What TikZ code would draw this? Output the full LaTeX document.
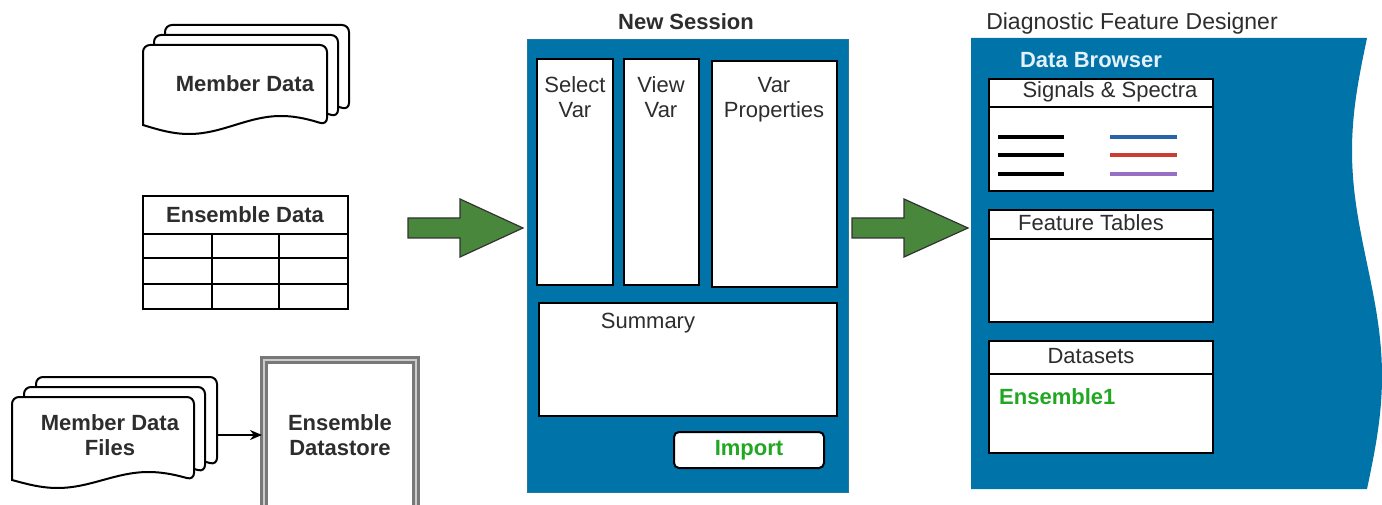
\documentclass[tikz,border=0pt]{standalone}
\usepackage{fontspec}
\setmainfont{Liberation Sans}
\usetikzlibrary{arrows.meta}
\definecolor{panelblue}{RGB}{0,115,168}
\definecolor{arrowgreen}{RGB}{72,135,60}
\definecolor{btngreen}{RGB}{34,167,34}
\definecolor{txt}{RGB}{45,45,45}
\definecolor{sigblue}{RGB}{40,100,170}
\definecolor{sigred}{RGB}{205,60,50}
\definecolor{sigpurple}{RGB}{150,110,195}
\definecolor{browsertxt}{RGB}{228,240,250}
\definecolor{dsgray}{RGB}{120,120,120}
\tikzset{
  lbl/.style={font=\fontsize{22}{25}\selectfont, text=txt, inner sep=0pt, align=center},
  blbl/.style={lbl, font=\fontsize{22}{25}\selectfont\bfseries},
  docstyle/.style={draw=black, fill=white, line width=2pt},
  wbox/.style={draw=black, fill=white, line width=2pt, inner sep=0pt},
  gline/.style={draw=black, line width=2pt},
  bigarrow/.style={draw=black!80, fill=arrowgreen, line width=1.2pt, line join=miter},
  sigline/.style={line width=3.6pt},
}
\newcommand{\wavedoc}[5]{%
  \pgfmathsetmacro{\wq}{(#3-#1)/4}%
  \pgfmathsetmacro{\xa}{#3-\wq}\pgfmathsetmacro{\xb}{#3-2*\wq}\pgfmathsetmacro{\xc}{#3-3*\wq}%
  \pgfmathsetmacro{\yu}{#4-#5}\pgfmathsetmacro{\yd}{#4+#5}%
  \draw[docstyle] (#1,#4) [rounded corners=7pt] -- (#1,#2) -- (#3,#2) -- (#3,#4) [sharp corners]
     sin (\xa,\yu) cos (\xb,#4) sin (\xc,\yd) cos (#1,#4) -- cycle;}
\newcommand{\pxbox}[6]{% name, L, T, R, B, style
  \node[#6, minimum width={(#4-#2)*1pt}, minimum height={(#5-#3)*1pt}] (#1) at ({(#2+#4)/2},{(#3+#5)/2}) {};}
\begin{document}
\begin{tikzpicture}[x=1pt,y=-1pt]
\useasboundingbox (0,0) rectangle (1382,505);

% ---------- Member Data stack ----------
\wavedoc{165}{25}{349}{110}{9}
\wavedoc{154}{35}{338}{117}{9}
\wavedoc{143}{45}{327}{125}{9}
\node[blbl] (md) at (245,84) {Member Data};

% ---------- Ensemble Data table ----------
\pxbox{edtab}{143}{196}{348}{309}{wbox}
\draw[gline] (edtab.west |- 0,234) -- (edtab.east |- 0,234);
\draw[gline] (edtab.west |- 0,258) -- (edtab.east |- 0,258);
\draw[gline] (edtab.west |- 0,284) -- (edtab.east |- 0,284);
\draw[gline] (212,234) -- (212,309);
\draw[gline] (279,234) -- (279,309);
\node[blbl] (edt) at (245,215) {Ensemble Data};

% ---------- Member Data Files stack ----------
\wavedoc{36}{377}{217}{465}{8}
\wavedoc{24}{387}{205}{472}{8}
\wavedoc{12}{397}{194}{480}{8}
\node[blbl] (mdf) at (110,435) {Member Data\\Files};
\coordinate (mdfR) at (217,435);

% ---------- Ensemble Datastore ----------
\draw[draw=dsgray, double=gray!40, double distance=1.5pt, line width=2.8pt]
  (264,520) -- (264,360) -- (416,360) -- (416,520);
\node[blbl] (eds) at (340,435) {Ensemble\\Datastore};
\coordinate (edsL) at (262,435);
\draw[-{Stealth[length=12pt,width=10pt]}, line width=2pt] (mdfR) -- (edsL);

% ---------- green arrows ----------
\coordinate (ga1) at (408,228);
\coordinate (ga2) at (852,228);
\draw[bigarrow] (ga1) ++(0,-10) -- ++(52,0) -- ++(0,-19) -- ++(63,29) -- ++(-63,29) -- ++(0,-19) -- ++(-52,0) -- cycle;
\draw[bigarrow] (ga2) ++(0,-10) -- ++(52,0) -- ++(0,-19) -- ++(64,29) -- ++(-64,29) -- ++(0,-19) -- ++(-52,0) -- cycle;

% ---------- New Session ----------
\node[blbl] (nst) at (686,22) {New Session};
\pxbox{ns}{527}{39}{848}{492}{fill=panelblue, draw=panelblue!70!gray, line width=0.6pt}
\pxbox{sel}{537}{59}{613}{285}{wbox}
\pxbox{view}{624}{59}{699}{285}{wbox}
\pxbox{prop}{712}{61}{837}{287}{wbox}
\node[lbl] at (575,97) {Select\\Var};
\node[lbl] at (661,97) {View\\Var};
\node[lbl] at (774,100) {Var\\Properties};
\pxbox{summ}{539}{303}{837}{416}{wbox}
\node[lbl] at (648,323) {Summary};
\pxbox{imp}{674}{432}{824}{468}{wbox, rounded corners=5pt}
\node[blbl, text=btngreen] at (749,450) {Import};

% ---------- Diagnostic Feature Designer ----------
\node[lbl, font=\fontsize{23}{26}\selectfont] (dfd) at (1132,24) {Diagnostic Feature Designer};
\fill[panelblue] (971,38) -- (1367,38)
  -- plot[domain=0:451, samples=90, variable=\t] ({1367-15*sin(0.79823*\t)},{38+\t})
  -- (971,489) -- cycle;
\node[blbl, text=browsertxt] (db) at (1091,60) {Data Browser};

\pxbox{sig}{989}{79}{1213}{191}{wbox}
\draw[gline] (sig.west |- 0,107) -- (sig.east |- 0,107);
\node[lbl] at (1110,92) {Signals \& Spectra};
\draw[sigline, black] (998,137) -- (1064,137);
\draw[sigline, black] (998,155) -- (1064,155);
\draw[sigline, black] (998,174) -- (1064,174);
\draw[sigline, sigblue] (1110,137) -- (1177,137);
\draw[sigline, sigred] (1110,155) -- (1177,155);
\draw[sigline, sigpurple] (1110,174) -- (1177,174);

\pxbox{feat}{989}{210}{1213}{322}{wbox}
\draw[gline] (feat.west |- 0,239) -- (feat.east |- 0,239);
\node[lbl] at (1091,223) {Feature Tables};

\pxbox{dsets}{989}{341}{1213}{453}{wbox}
\draw[gline] (dsets.west |- 0,374) -- (dsets.east |- 0,374);
\node[lbl] at (1091,356) {Datasets};
\node[blbl, text=btngreen, anchor=west] at (999,397) {Ensemble1};
\end{tikzpicture}
\end{document}
